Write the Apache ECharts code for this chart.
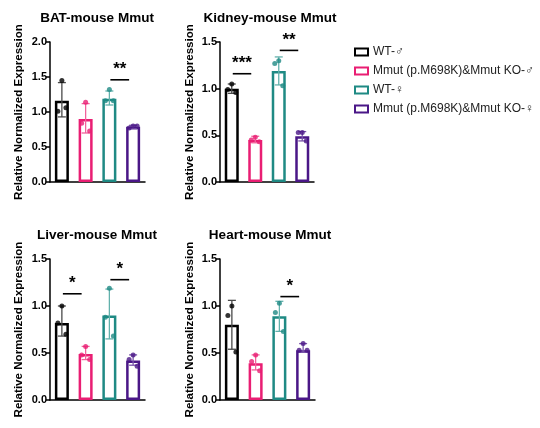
<!DOCTYPE html>
<html><head><meta charset="utf-8">
<script src="https://cdn.jsdelivr.net/npm/echarts@6/dist/echarts.min.js"></script>
<style>html,body{margin:0;padding:0;background:#fff}#c{width:540px;height:428px}</style>
</head><body><div id="c"></div>
<script>
const groups = ['WT-♂', 'Mmut (p.M698K)&Mmut KO-♂', 'WT-♀', 'Mmut (p.M698K)&Mmut KO-♀'];
const panelTitles = ['BAT-mouse Mmut', 'Kidney-mouse Mmut', 'Liver-mouse Mmut', 'Heart-mouse Mmut'];
const yMaxes = [2.0, 1.5, 1.5, 1.5];

// BAT
const batMeans = [1.16, 0.90, 1.19, 0.79];
const batErrLow = [0.93, 0.70, 1.10, 0.76];
const batErrHigh = [1.42, 1.12, 1.30, 0.81];
const batPoints = [[1.45, 1.01, 1.06], [1.14, 0.84, 0.73], [1.32, 1.16, 1.16], [0.80, 0.77, 0.80]];
const batSig = [[2, 3, 1.46, '**']];

// Kidney
const kidneyMeans = [1.00, 0.45, 1.19, 0.49];
const kidneyErrLow = [0.95, 0.42, 1.04, 0.44];
const kidneyErrHigh = [1.05, 0.49, 1.34, 0.54];
const kidneyPoints = [[1.05, 0.99, 0.96], [0.48, 0.45, 0.43], [1.30, 1.27, 1.03], [0.53, 0.53, 0.44]];
const kidneySig = [[0, 1, 1.16, '***'], [2, 3, 1.41, '**']];

// Liver
const liverMeans = [0.82, 0.49, 0.90, 0.42];
const liverErrLow = [0.68, 0.43, 0.65, 0.37];
const liverErrHigh = [1.00, 0.57, 1.18, 0.48];
const liverPoints = [[1.00, 0.82, 0.70], [0.57, 0.48, 0.43], [1.19, 0.88, 0.68], [0.48, 0.43, 0.36]];
const liverSig = [[0, 1, 1.13, '*'], [2, 3, 1.28, '*']];

// Heart
const heartMeans = [0.80, 0.39, 0.89, 0.53];
const heartErrLow = [0.54, 0.32, 0.73, 0.51];
const heartErrHigh = [1.06, 0.48, 1.05, 0.60];
const heartPoints = [[1.00, 0.90, 0.51], [0.48, 0.41, 0.31], [1.03, 0.93, 0.73], [0.60, 0.53, 0.53]];
const heartSig = [[2, 3, 1.10, '*']];

const panels = [
  {means: batMeans, lo: batErrLow, hi: batErrHigh, pts: batPoints, sig: batSig},
  {means: kidneyMeans, lo: kidneyErrLow, hi: kidneyErrHigh, pts: kidneyPoints, sig: kidneySig},
  {means: liverMeans, lo: liverErrLow, hi: liverErrHigh, pts: liverPoints, sig: liverSig},
  {means: heartMeans, lo: heartErrLow, hi: heartErrHigh, pts: heartPoints, sig: heartSig}
];

const colors = ['#000000', '#e91e73', '#1f8a84', '#4a1787'];
const errColors = ['#4a4a4a', '#f2629c', '#62b1ac', '#7a55aa'];
const jitter = [0, -4, 4];
const FONT = 'Liberation Sans, Arial, sans-serif';

const grids = [
  {left: 50, top: 42, width: 95, height: 140},
  {left: 220, top: 42, width: 94, height: 140},
  {left: 50, top: 259, width: 95, height: 141},
  {left: 220, top: 259, width: 95, height: 141}
];
const titlePos = [[97, 11], [270, 11], [97, 228], [270, 228]];
const nameGaps = [25, 24.5, 25, 24.5];

const option = {
  animation: false,
  textStyle: {fontFamily: FONT},
  title: panelTitles.map((t, p) => ({
    text: t, left: titlePos[p][0], top: titlePos[p][1], textAlign: 'center', padding: 0,
    textStyle: {fontSize: 13.5, fontWeight: 'bold', color: '#000', fontFamily: FONT}
  })),
  legend: {
    orient: 'vertical', left: 349, top: 40, itemWidth: 13, itemHeight: 7, itemGap: 5,
    icon: 'rect', selectedMode: false,
    textStyle: {fontSize: 12, color: '#222', fontFamily: FONT, lineHeight: 14},
    data: groups.map((g, i) => ({name: g, itemStyle: {color: '#fff', borderColor: colors[i], borderWidth: 2}}))
  },
  grid: grids,
  xAxis: grids.map((g, p) => ({
    gridIndex: p, type: 'category', data: groups,
    axisLine: {lineStyle: {color: '#000', width: 1.5}},
    axisTick: {show: false}, axisLabel: {show: false}
  })),
  yAxis: grids.map((g, p) => ({
    gridIndex: p, type: 'value', min: 0, max: yMaxes[p], interval: 0.5,
    axisLine: {show: true, lineStyle: {color: '#000', width: 1.5}},
    axisTick: {show: true, length: 4, lineStyle: {color: '#000', width: 1.5}},
    splitLine: {show: false},
    axisLabel: {formatter: v => v.toFixed(1), fontWeight: 'bold', fontSize: 11, color: '#000', margin: 3, fontFamily: FONT},
    name: 'Relative Normalized Expression', nameLocation: 'middle', nameGap: nameGaps[p],
    nameTextStyle: {fontWeight: 'bold', fontSize: 11.6, color: '#000', fontFamily: FONT}
  })),
  series: []
};

panels.forEach((pd, p) => {
  groups.forEach((g, i) => {
    option.series.push({
      type: 'bar', name: g, xAxisIndex: p, yAxisIndex: p,
      barWidth: 14, barGap: '-100%',
      data: pd.means.map((v, k) => k === i ? v : '-'),
      itemStyle: {color: '#fff', borderColor: colors[i], borderWidth: 2.5},
      z: 2
    });
  });
  option.series.push({
    type: 'custom', xAxisIndex: p, yAxisIndex: p, z: 3,
    data: pd.means.map((v, k) => [k, pd.lo[k], pd.hi[k]]),
    encode: {x: 0, y: [1, 2]},
    renderItem: (params, api) => {
      const i = api.value(0);
      const a = api.coord([i, api.value(1)]);
      const b = api.coord([i, api.value(2)]);
      const st = {stroke: errColors[i], lineWidth: 1.3};
      return {type: 'group', children: [
        {type: 'line', shape: {x1: a[0], y1: a[1], x2: b[0], y2: b[1]}, style: st},
        {type: 'line', shape: {x1: b[0] - 4, y1: b[1], x2: b[0] + 4, y2: b[1]}, style: st},
        {type: 'line', shape: {x1: a[0] - 4, y1: a[1], x2: a[0] + 4, y2: a[1]}, style: st}
      ]};
    }
  });
  const sdata = [];
  pd.pts.forEach((arr, i) => arr.forEach((v, j) => sdata.push({
    value: [i, v], symbolOffset: [jitter[j], 0], itemStyle: {color: colors[i]}
  })));
  option.series.push({
    type: 'scatter', xAxisIndex: p, yAxisIndex: p, z: 4,
    symbol: 'circle', symbolSize: 5, data: sdata
  });
  option.series.push({
    type: 'custom', xAxisIndex: p, yAxisIndex: p, z: 5,
    data: pd.sig.map(s => [s[0], s[1], s[2]]),
    encode: {x: [0, 1], y: 2},
    renderItem: (params, api) => {
      const a = api.coord([api.value(0), api.value(2)]);
      const b = api.coord([api.value(1), api.value(2)]);
      const x1 = a[0] + 1, x2 = b[0] - 4;
      return {type: 'group', children: [
        {type: 'line', shape: {x1: x1, y1: a[1], x2: x2, y2: a[1]}, style: {stroke: '#000', lineWidth: 1.6}},
        {type: 'text', style: {text: pd.sig[params.dataIndex][3], x: (x1 + x2) / 2, y: a[1] - 2,
          textAlign: 'center', textVerticalAlign: 'bottom', font: 'bold 17px ' + FONT, fill: '#000'}}
      ]};
    }
  });
});

const chart = echarts.init(document.getElementById('c'), null, {renderer: 'canvas'});
chart.setOption(option);
</script>
</body></html>
